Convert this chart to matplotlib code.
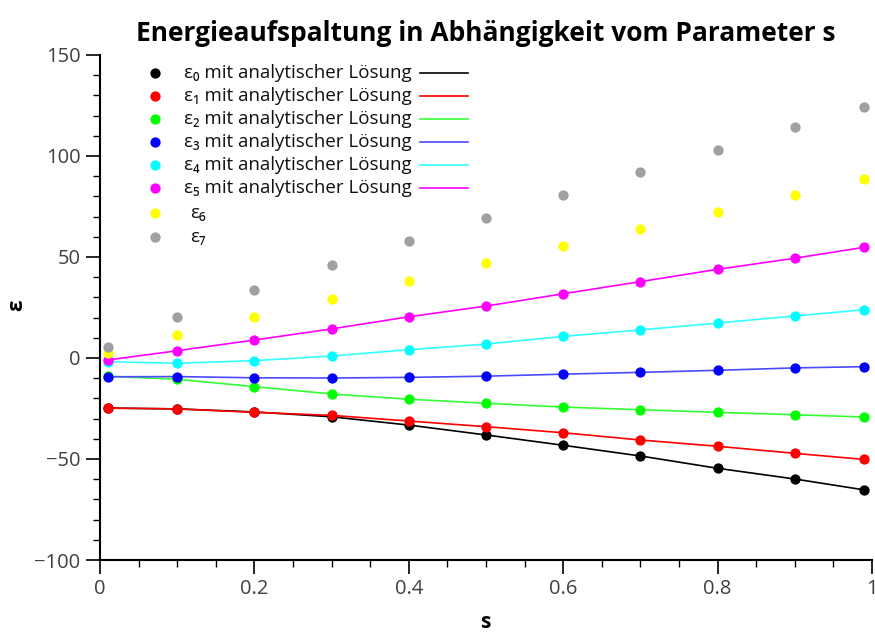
import matplotlib
matplotlib.use("Agg")
import matplotlib.pyplot as plt
from matplotlib.ticker import MultipleLocator

plt.rcParams['font.family'] = ['Open Sans', 'DejaVu Sans']

s = [0.01, 0.1, 0.2, 0.3, 0.4, 0.5, 0.6, 0.7, 0.8, 0.9, 0.99]
eps0 = [-24.8, -25.2, -26.7, -29.1, -33.2, -38.1, -43.2, -48.5, -54.6, -59.9, -65.3]
eps1 = [-24.8, -25.2, -26.9, -28.4, -31.2, -34.0, -37.0, -40.6, -43.7, -47.2, -50.2]
eps2 = [-9.0, -10.5, -14.2, -17.8, -20.4, -22.4, -24.3, -25.6, -26.9, -28.1, -29.2]
eps3 = [-9.3, -9.2, -9.8, -9.9, -9.6, -9.0, -8.0, -7.1, -6.1, -4.9, -4.3]
eps4 = [-1.8, -2.6, -1.3, 1.0, 4.1, 6.9, 10.7, 13.9, 17.3, 20.8, 23.9]
eps5 = [-1.0, 3.6, 8.9, 14.4, 20.4, 25.7, 31.8, 37.8, 43.9, 49.4, 54.8]
eps6 = [2.3, 11.4, 20.3, 29.2, 38.1, 46.9, 55.4, 63.9, 72.3, 80.7, 88.6]
eps7 = [5.6, 20.4, 33.7, 46.0, 57.9, 69.5, 80.7, 92.2, 103.1, 114.5, 124.4]

labels = ["ε₀ mit analytischer Lösung", "ε₁ mit analytischer Lösung",
          "ε₂ mit analytischer Lösung", "ε₃ mit analytischer Lösung",
          "ε₄ mit analytischer Lösung", "ε₅ mit analytischer Lösung",
          "ε₆", "ε₇"]
colors = ["#000000", "#ff0000", "#00ff00", "#0000ff", "#00ffff", "#ff00ff", "#ffff00", "#a0a0a4"]
line_colors = ["#000000", "#ff0000", "#33ff33", "#4a4aff", "#33ffff", "#ff00ff"]
series = [eps0, eps1, eps2, eps3, eps4, eps5, eps6, eps7]

fig = plt.figure(figsize=(8.75, 6.32), dpi=100)
ax = fig.add_axes([100/875, 1-560/632, 772/875, 505/632])

for i, ys in enumerate(series):
    if i < 6:
        ax.plot(s, ys, color=line_colors[i], lw=1.2, zorder=2)
for i, ys in enumerate(series):
    ax.scatter(s, ys, s=55, color=colors[i], zorder=3, linewidths=0)

ax.set_xlim(0, 1)
ax.set_ylim(-100, 150)
ax.xaxis.set_minor_locator(MultipleLocator(0.05))
ax.yaxis.set_minor_locator(MultipleLocator(10))
ax.set_xticks([0, 0.2, 0.4, 0.6, 0.8, 1.0])
ax.set_xticklabels(["0", "0.2", "0.4", "0.6", "0.8", "1"])
ax.set_yticks([-100, -50, 0, 50, 100, 150])
ax.set_yticklabels(["−100", "−50", "0", "50", "100", "150"])
for side in ["top", "right"]:
    ax.spines[side].set_visible(False)
ax.spines["left"].set_linewidth(1.5)
ax.spines["bottom"].set_linewidth(1.5)
ax.tick_params(axis='both', which='major', direction='out', length=10, width=1.2,
               labelsize=14.5, labelcolor="#404040", pad=4)
ax.tick_params(axis='both', which='minor', direction='out', length=5, width=1.0)

ax.set_xlabel("s", fontsize=15, fontweight='bold')
ax.xaxis.set_label_coords(0.5, (560 - 612) / 505)
ax.set_ylabel("ε", fontsize=15, fontweight='bold')
ax.yaxis.set_label_coords((27 - 100) / 772, (560 - 305) / 505)
ax.set_title("Energieaufspaltung in Abhängigkeit vom Parameter s",
             fontsize=19, fontweight='bold', pad=10)

# manual legend
def px2ax(px, py):
    return (px - 100) / 772, (560 - py) / 505

row_y = [73, 96, 119, 142, 165, 188, 213, 237]
for i, lab in enumerate(labels):
    mx, my = px2ax(155, row_y[i])
    ax.scatter([mx], [my], s=55, color=colors[i], transform=ax.transAxes,
               linewidths=0, zorder=4, clip_on=False)
    tx = 184 if i < 6 else 190
    tx, ty = px2ax(tx, row_y[i])
    ax.text(tx, ty, lab, transform=ax.transAxes, fontsize=13.5, va='center',
            ha='left', color="#111111")
    if i < 6:
        lx0, ly = px2ax(420, row_y[i])
        lx1, _ = px2ax(468, row_y[i])
        ax.plot([lx0, lx1], [ly, ly], color=line_colors[i], lw=1.2,
                transform=ax.transAxes)

fig.savefig("out.png", dpi=100)
